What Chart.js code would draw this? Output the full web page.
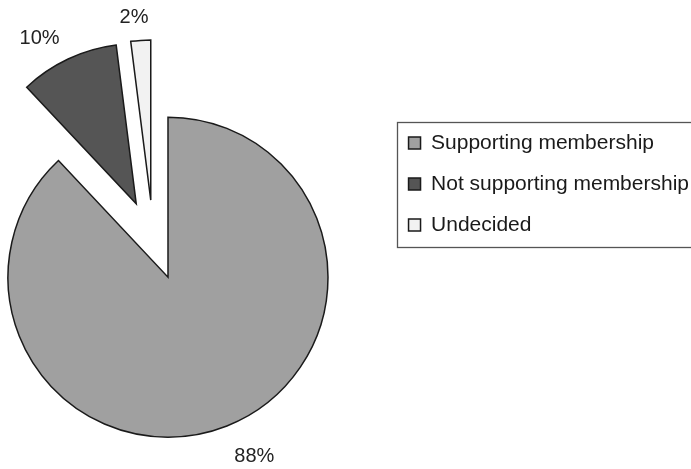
<!DOCTYPE html>
<html>
<head>
<meta charset="utf-8">
<style>
  html, body { margin: 0; padding: 0; background: #fff; overflow: hidden; }
  /* the canvas runs past the left edge so the pie sits further left */
  #wrap { width: 773px; height: 469px; margin-left: -82px; }
</style>
</head>
<body>
<div id="wrap"><canvas id="pieChart"></canvas></div>
<script src="https://cdn.jsdelivr.net/npm/chart.js"></script>
<script>
const categories = ['Supporting membership', 'Not supporting membership', 'Undecided'];
const shares = [88, 10, 2];
const percentLabels = ['88%', '10%', '2%'];
const sliceColors = ['#a0a0a0', '#555555', '#f2f2f2'];

const FONT = "'Liberation Sans', Arial, Helvetica, sans-serif";

// every slice is pulled away from the common centre along its middle angle
const explodePlugin = {
  id: 'explode',
  beforeDatasetDraw(chart, args, opts) {
    chart.getDatasetMeta(args.index).data.forEach(arc => {
      const d = opts.distance || 0;
      const mid = (arc.startAngle + arc.endAngle) / 2;
      arc._dx = Math.cos(mid) * d;
      arc._dy = Math.sin(mid) * d;
      arc.x += arc._dx;
      arc.y += arc._dy;
    });
  },
  afterDatasetDraw(chart, args) {
    chart.getDatasetMeta(args.index).data.forEach(arc => {
      arc.x -= arc._dx;
      arc.y -= arc._dy;
    });
  }
};

// percentage text just outside each slice
const sliceLabels = {
  id: 'sliceLabels',
  afterDatasetsDraw(chart, args, opts) {
    const ctx = chart.ctx;
    const d = chart.options.plugins.explode.distance || 0;
    const clamp = v => Math.max(-1, Math.min(1, v));
    ctx.save();
    ctx.font = opts.size + 'px ' + FONT;
    ctx.fillStyle = opts.color;
    ctx.textAlign = 'center';
    ctx.textBaseline = 'alphabetic';
    chart.getDatasetMeta(0).data.forEach((arc, i) => {
      const mid = (arc.startAngle + arc.endAngle) / 2;
      const ux = Math.cos(mid), uy = Math.sin(mid);
      const r = d + arc.outerRadius + opts.gap;
      const w = ctx.measureText(percentLabels[i]).width;
      const h = opts.size * 0.72;
      const x = arc.x + ux * r + w / 2 * clamp(ux * 6);
      const y = arc.y + uy * r + h / 2 * clamp(uy * 6);
      // text hangs from the baseline, so drop it by about half its height
      ctx.fillText(percentLabels[i], x, y + opts.size * 0.5);
    });
    ctx.restore();
  }
};

// thin frame round the legend, open on the right side
const legendFrame = {
  id: 'legendFrame',
  afterDraw(chart) {
    const boxes = chart.legend.legendHitBoxes;
    if (!boxes || !boxes.length) return;
    const first = boxes[0], last = boxes[boxes.length - 1];
    const ctx = chart.ctx;
    const left = Math.round(first.left - 12) + 0.5;
    const top = Math.round(first.top - 10.5) + 0.5;
    const bottom = Math.round(last.top + last.height + 11.5) + 0.5;
    ctx.save();
    ctx.strokeStyle = '#555';
    ctx.lineWidth = 1.3;
    ctx.strokeRect(left, top, chart.width + 10 - left, bottom - top);
    ctx.restore();
  }
};

new Chart(document.getElementById('pieChart'), {
  type: 'pie',
  data: {
    labels: categories,
    datasets: [{
      data: shares,
      backgroundColor: sliceColors,
      borderColor: '#1a1a1a',
      borderWidth: 1.5,
      borderJoinStyle: 'miter'
    }]
  },
  options: {
    responsive: true,
    maintainAspectRatio: false,
    animation: false,
    radius: 160,
    layout: {
      padding: { top: 112.5, bottom: 101.5, left: 0, right: -8 }
    },
    plugins: {
      explode: { distance: 40 },
      sliceLabels: { size: 20, color: '#222', gap: 20 },
      tooltip: { enabled: false },
      legend: {
        position: 'right',
        align: 'start',
        labels: {
          boxWidth: 12,
          boxHeight: 12,
          padding: 20,
          color: '#1a1a1a',
          font: { family: FONT, size: 21 }
        }
      }
    }
  },
  plugins: [explodePlugin, sliceLabels, legendFrame]
});
</script>
</body>
</html>
